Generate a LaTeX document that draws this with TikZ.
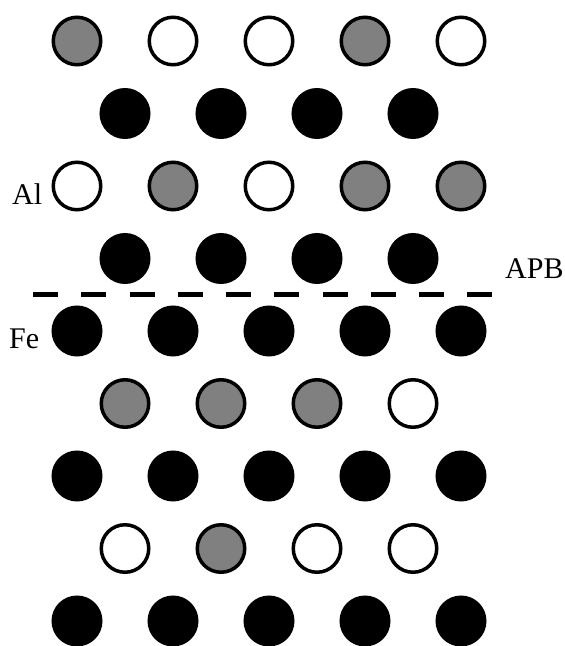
\documentclass[tikz,border=0pt]{standalone}
\usepackage{fontspec}
\setmainfont{Liberation Serif}
\begin{document}
\begin{tikzpicture}[x=1pt,y=-1pt,
  atom/.style={circle,draw=black,line width=3.5pt,fill=#1,minimum size=47.5pt,inner sep=0pt},
  lbl/.style={inner sep=0pt,anchor=base west,font=\fontsize{30}{36}\selectfont},
  apb/.style={line width=5pt,dash pattern=on 25pt off 23.25pt}]
\useasboundingbox (0,0) rectangle (565,646);
% long rows: x = 77 + 96k ; short rows: x = 125 + 96k
\foreach \c [count=\i] in {black!50,white,white,black!50,white}
  \node[atom=\c] (r1c\i) at ({77+96*(\i-1)},41) {};
\foreach \i in {1,...,4}
  \node[atom=black] (r2c\i) at ({125+96*(\i-1)},113.5) {};
\foreach \c [count=\i] in {white,black!50,white,black!50,black!50}
  \node[atom=\c] (r3c\i) at ({77+96*(\i-1)},186) {};
\foreach \i in {1,...,4}
  \node[atom=black] (r4c\i) at ({125+96*(\i-1)},258.5) {};
\foreach \i in {1,...,5}
  \node[atom=black] (r5c\i) at ({77+96*(\i-1)},331) {};
\foreach \c [count=\i] in {black!50,black!50,black!50,white}
  \node[atom=\c] (r6c\i) at ({125+96*(\i-1)},403.5) {};
\foreach \i in {1,...,5}
  \node[atom=black] (r7c\i) at ({77+96*(\i-1)},476) {};
\foreach \c [count=\i] in {white,black!50,white,white}
  \node[atom=\c] (r8c\i) at ({125+96*(\i-1)},548.5) {};
\foreach \i in {1,...,5}
  \node[atom=black] (r9c\i) at ({77+96*(\i-1)},621) {};
% labels
\node[lbl] (al) at (12,204) {Al};
\node[lbl] (fe) at (9,348) {Fe};
\node[lbl] (apbl) at (505,278) {APB};
% antiphase boundary
\coordinate (apbL) at (33,294);
\coordinate (apbR) at (492,294);
\draw[apb] (apbL) -- (apbR);
\end{tikzpicture}
\end{document}
